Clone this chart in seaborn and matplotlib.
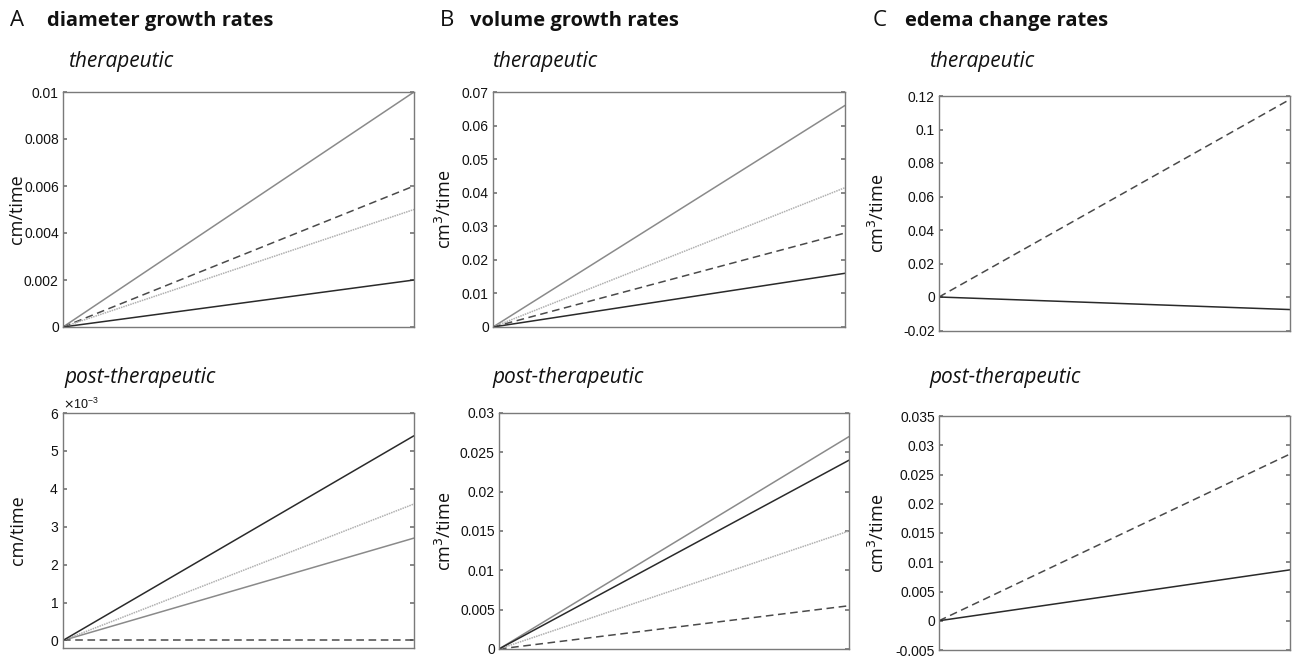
import matplotlib
matplotlib.use("Agg")
import matplotlib.pyplot as plt
import matplotlib.ticker as mticker
import seaborn as sns
import pandas as pd

# ---- data (rate lines from t=0 to t=1) ----
time = [0, 1]
series = ["gray", "dashed", "dotted", "black"]

diam_ther_start = [0, 0, 0, 0]
diam_ther_end = [0.010, 0.006, 0.005, 0.002]
diam_post_start = [0, 0, 0, 0]
diam_post_end = [0.0027, 0.0, 0.0036, 0.0054]

vol_ther_start = [0, 0, 0, 0]
vol_ther_end = [0.066, 0.028, 0.0415, 0.016]
vol_post_start = [0, 0, 0, 0]
vol_post_end = [0.027, 0.0055, 0.015, 0.024]

edema_series = ["dashed", "black"]
edema_ther_start = [0, 0]
edema_ther_end = [0.118, -0.0075]
edema_post_start = [0, 0]
edema_post_end = [0.0285, 0.0087]

headers = ["diameter growth rates", "volume growth rates", "edema change rates"]
letters = ["A", "B", "C"]
subtitles = ["therapeutic", "post-therapeutic"]
ylabels = ["cm/time", "cm$^3$/time", "cm$^3$/time"]

ylims = [(0, 0.01), (-0.0002, 0.006), (0, 0.07), (0, 0.03), (-0.02, 0.12), (-0.005, 0.035)]
yticks = [[0, 0.002, 0.004, 0.006, 0.008, 0.01],
          [0, 0.001, 0.002, 0.003, 0.004, 0.005, 0.006],
          [0, 0.01, 0.02, 0.03, 0.04, 0.05, 0.06, 0.07],
          [0, 0.005, 0.01, 0.015, 0.02, 0.025, 0.03],
          [-0.02, 0, 0.02, 0.04, 0.06, 0.08, 0.1, 0.12],
          [-0.005, 0, 0.005, 0.01, 0.015, 0.02, 0.025, 0.03, 0.035]]

styles = {
    "gray": dict(color="#8a8a8a", ls="-", lw=1.1),
    "dashed": dict(color="#4a4a4a", ls=(0, (5, 3)), lw=1.1),
    "dotted": dict(color="#b0b0b0", ls=(0, (1, 0.6)), lw=1.1),
    "black": dict(color="#2a2a2a", ls="-", lw=1.1),
}

sns.set_theme(style="white")
plt.rcParams["font.family"] = ["Liberation Sans", "DejaVu Sans"]

fig = plt.figure(figsize=(12.92, 6.59), dpi=100)

W, H = 1292, 659
def box(l, r, t, b):
    return [l / W, (H - b) / H, (r - l) / W, (b - t) / H]

boxes = [box(63, 414, 92, 327), box(63, 414, 413, 648),
         box(493, 845, 92, 327), box(499, 849, 413, 649),
         box(939, 1290, 96, 330.5), box(939, 1290, 416, 650)]

panels = [
    (series, diam_ther_start, diam_ther_end),
    (series, diam_post_start, diam_post_end),
    (series, vol_ther_start, vol_ther_end),
    (series, vol_post_start, vol_post_end),
    (edema_series, edema_ther_start, edema_ther_end),
    (edema_series, edema_post_start, edema_post_end),
]

ylabel_x = [17, 18, 445, 445, 878, 878]
sub_x = [68, 64, 492, 492, 929, 929]
sub_y = [62, 378, 62, 378, 62, 378]

for i, (names, starts, ends) in enumerate(panels):
    ax = fig.add_axes(boxes[i])
    for name, s, e in zip(names, starts, ends):
        df = pd.DataFrame({"t": time, "v": [s, e]})
        st = styles[name]
        sns.lineplot(data=df, x="t", y="v", ax=ax, color=st["color"],
                     linestyle=st["ls"], linewidth=st["lw"])
    ax.set_xlim(0, 1)
    ax.set_ylim(*ylims[i])
    ax.set_yticks(yticks[i])
    ax.set_xticks([])
    ax.set_xlabel("")
    ax.set_ylabel("")
    if i == 1:
        fmt = mticker.ScalarFormatter(useMathText=True)
        fmt.set_powerlimits((-2, 2))
        ax.yaxis.set_major_formatter(fmt)
        ax.yaxis.get_offset_text().set_fontsize(9)
        ax.yaxis.get_offset_text().set_color("#222222")
    else:
        ax.yaxis.set_major_formatter(mticker.FormatStrFormatter("%g"))
    ax.tick_params(axis="y", which="both", direction="in", length=3,
                   left=True, right=True, labelsize=10, labelcolor="#111111",
                   color="#777777", pad=3)
    for sp in ax.spines.values():
        sp.set_color("#7a7a7a")
        sp.set_linewidth(1.0)
    ax.text(ylabel_x[i] / W, boxes[i][1] + boxes[i][3] / 2, ylabels[i // 2],
            transform=fig.transFigure, rotation=90, ha="center", va="center",
            fontsize=13, family=["Open Sans", "DejaVu Sans"], color="#111111")
    fig.text(sub_x[i] / W, 1 - sub_y[i] / H, subtitles[i % 2], ha="left", va="center",
             fontsize=15, style="italic", family=["Open Sans", "DejaVu Sans"],
             color="#111111")

header_x = [(10, 47), (440, 470), (873, 905)]
for j in range(3):
    lx, hx = header_x[j]
    fig.text(lx / W, 1 - 21 / H, letters[j], ha="left", va="center", fontsize=16,
             family=["Open Sans", "DejaVu Sans"], color="#111111")
    fig.text(hx / W, 1 - 21 / H, headers[j], ha="left", va="center", fontsize=14.5,
             weight="bold", family=["Open Sans", "DejaVu Sans"], color="#111111")

fig.savefig("out.png", dpi=100, facecolor="white")
